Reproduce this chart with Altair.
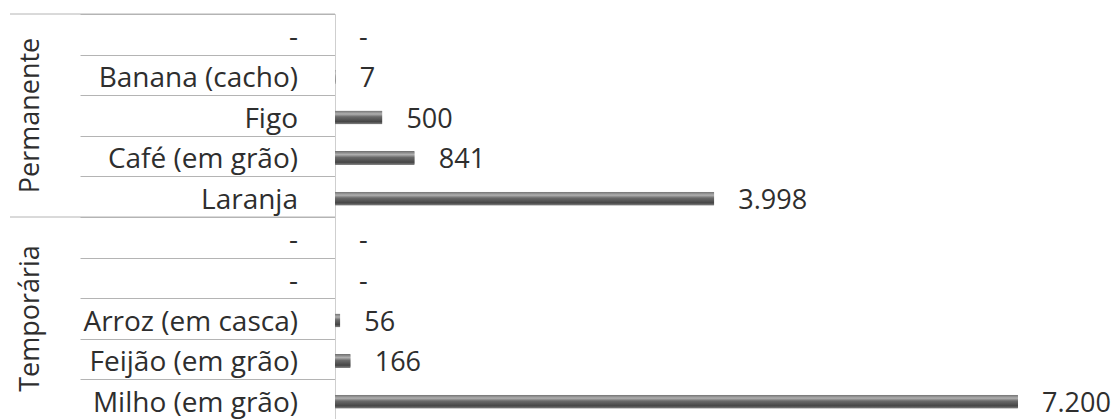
import altair as alt
import pandas as pd

# Crop production by crop type (permanent / temporary)
groups = ["Permanente"] * 5 + ["Temporária"] * 5
crops = ["-", "Banana (cacho)", "Figo", "Café (em grão)", "Laranja",
         "-", "-", "Arroz (em casca)", "Feijão (em grão)", "Milho (em grão)"]
values = [None, 7, 500, 841, 3998, None, None, 56, 166, 7200]

df = pd.DataFrame({"row": list(range(len(crops))), "group": groups,
                   "crop": crops, "val": values})

FONT = "Open Sans"
TXT = "#2e2e2e"
LINE = "#b4b4b4"

y_enc = alt.Y("row:O", sort="ascending", title=None,
              scale=alt.Scale(paddingInner=0, paddingOuter=0),
              axis=alt.Axis(labels=False, tickBand="extent", tickSize=255,
                            tickColor=LINE, tickWidth=1,
                            domainColor="#cfcfcf", domainWidth=1))
x_scale = alt.Scale(domain=[0, 8243], nice=False, zero=True)

base = alt.Chart(df)

bar_fill = alt.Gradient(
    gradient="linear", x1=0, x2=0, y1=0, y2=1,
    stops=[alt.GradientStop(offset=0, color="#6e6e6e"),
           alt.GradientStop(offset=0.25, color="#b0b0b0"),
           alt.GradientStop(offset=0.45, color="#6a6a6a"),
           alt.GradientStop(offset=0.8, color="#454545"),
           alt.GradientStop(offset=1, color="#8a8a8a")])

bars = base.mark_bar(size=14, yOffset=2, color=bar_fill, cornerRadiusEnd=1).encode(
    y=y_enc,
    x=alt.X("val:Q", scale=x_scale, axis=None, title=None),
)

values_txt = base.transform_calculate(
    xpos="isValid(datum.val) ? datum.val : 0",
    lbl="isValid(datum.val) ? replace(format(datum.val, ','), ',', '.') : '-'",
).mark_text(align="left", baseline="middle", dx=24, dy=4, font=FONT,
            fontSize=27, color=TXT).encode(
    y=alt.Y("row:O", sort="ascending"),
    x=alt.X("xpos:Q", scale=x_scale),
    text="lbl:N",
)

crop_txt = base.mark_text(align="right", baseline="middle", dy=4, font=FONT,
                          fontSize=28, color=TXT).encode(
    y=alt.Y("row:O", sort="ascending"),
    x=alt.value(-37),
    text="crop:N",
)

# long separators at the start of each group
group_rules = base.transform_filter("datum.row % 5 == 0").mark_rule(
    color=LINE, strokeWidth=1).encode(
    y=alt.Y("row:O", sort="ascending", bandPosition=0),
    x=alt.value(-325),
    x2=alt.value(0),
)

group_txt = base.transform_filter("datum.row % 5 == 2").mark_text(
    angle=270, align="center", baseline="middle", font=FONT, fontSize=27,
    color=TXT).encode(
    y=alt.Y("row:O", sort="ascending"),
    x=alt.value(-304),
    text="group:N",
)

chart = alt.layer(bars, values_txt, crop_txt, group_rules, group_txt).properties(
    width=782, height=406,
    padding={"left": 335, "top": 14, "right": 0, "bottom": 0},
    autosize="none",
    background="white",
).configure_view(stroke=None)

chart.save("out.html", embed_options={"renderer": "svg", "actions": False})
